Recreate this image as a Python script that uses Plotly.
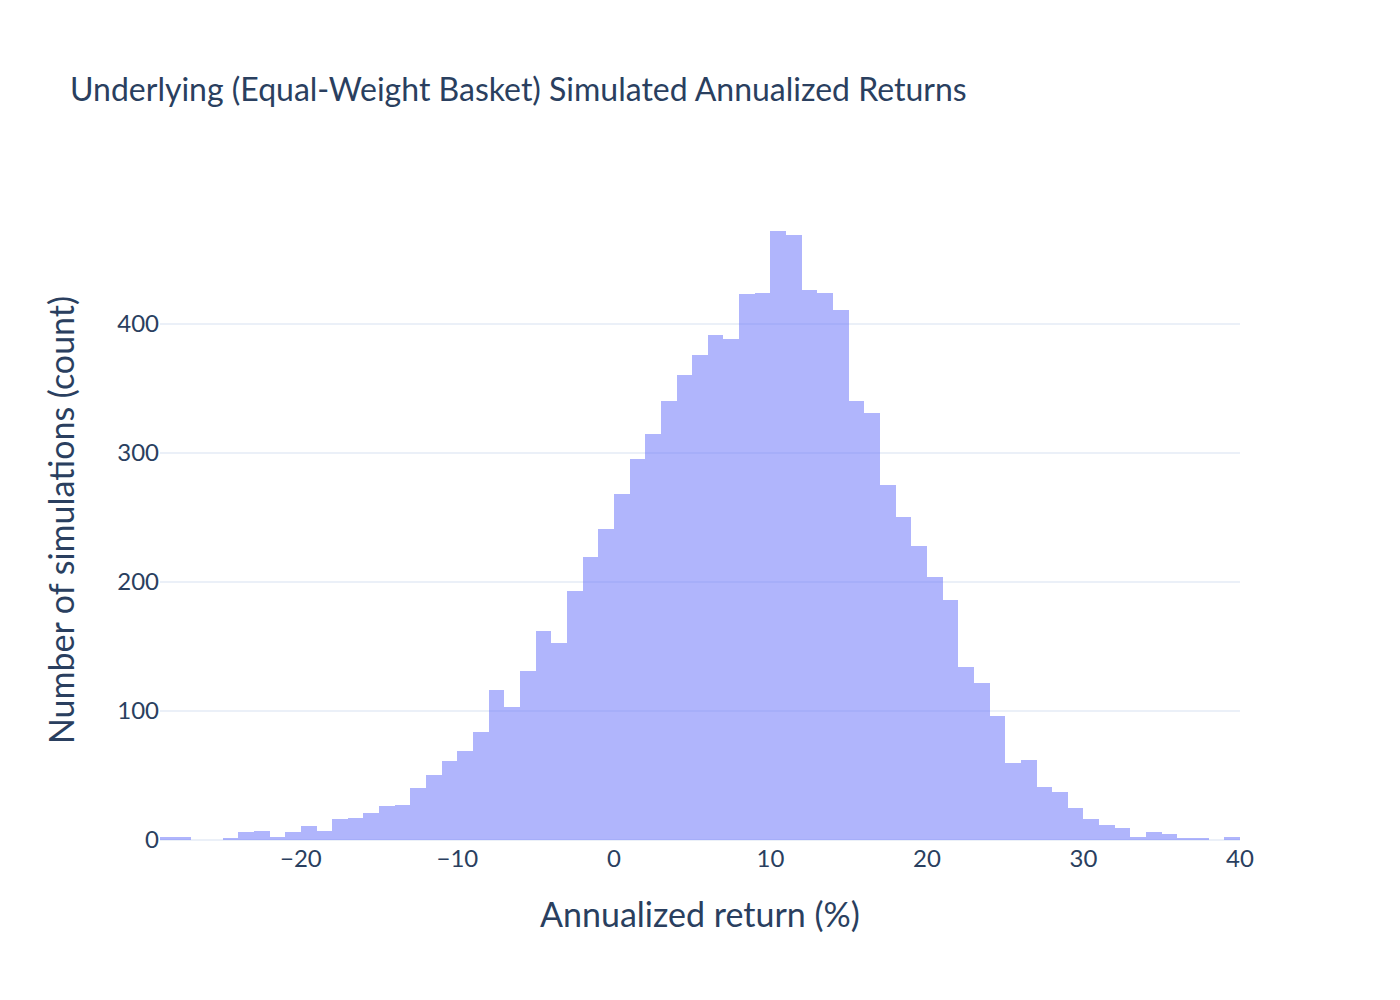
import plotly.graph_objects as go

# Simulated annualized returns of the equal-weight basket, 1% bins
bin_starts = [-29, -28, -27, -26, -25, -24, -23, -22, -21, -20,
              -19, -18, -17, -16, -15, -14, -13, -12, -11, -10,
              -9, -8, -7, -6, -5, -4, -3, -2, -1, 0,
              1, 2, 3, 4, 5, 6, 7, 8, 9, 10,
              11, 12, 13, 14, 15, 16, 17, 18, 19, 20,
              21, 22, 23, 24, 25, 26, 27, 28, 29, 30,
              31, 32, 33, 34, 35, 36, 37, 38, 39]
counts = [2, 2, 0, 0, 1, 6, 7, 2, 6, 11,
          7, 16, 17, 21, 26, 27, 40, 50, 61, 69,
          84, 116, 103, 131, 162, 153, 193, 219, 241, 268,
          295, 315, 340, 360, 376, 391, 388, 423, 424, 472,
          469, 426, 424, 411, 340, 331, 275, 250, 228, 204,
          186, 134, 122, 96, 60, 62, 41, 37, 25, 16,
          12, 9, 2, 6, 5, 1, 1, 0, 2]
bin_width = 1

FONT = "Lato"
INK = "#2a3f5f"
GRID = "#EBF0F8"

fig = go.Figure()
fig.add_trace(go.Bar(
    x=bin_starts, y=counts,
    width=bin_width, offset=0,
    marker=dict(color="#636efa", line=dict(width=0)),
    opacity=0.5,
    name="Underlying",
))

# page has an 8px body margin, so margins are nudged to land the plot area at 160..1240 x 200..840
fig.update_layout(
    template="plotly_white",
    width=1400, height=1000,
    margin=dict(l=152, r=168, t=192, b=168),
    font=dict(family=FONT, size=24, color=INK),
    title=dict(text="Underlying (Equal-Weight Basket) Simulated Annualized Returns",
               x=62 / 1400, xanchor="left", y=1 - 82 / 1000, yanchor="middle",
               font=dict(size=32, color=INK)),
    bargap=0,
    showlegend=False,
    plot_bgcolor="white",
)
fig.update_xaxes(
    title=dict(text="Annualized return (%)", font=dict(size=34), standoff=32),
    range=[-29, 40], dtick=10, showgrid=False,
    zeroline=False, tickfont=dict(size=24), ticklabelstandoff=2,
)
fig.update_yaxes(
    title=dict(text="Number of simulations (count)", font=dict(size=34), standoff=32),
    range=[0, 496], dtick=100, gridcolor=GRID, gridwidth=2,
    zeroline=True, zerolinecolor=GRID, zerolinewidth=2,
    tickfont=dict(size=24),
)

fig.write_html("out.html")
